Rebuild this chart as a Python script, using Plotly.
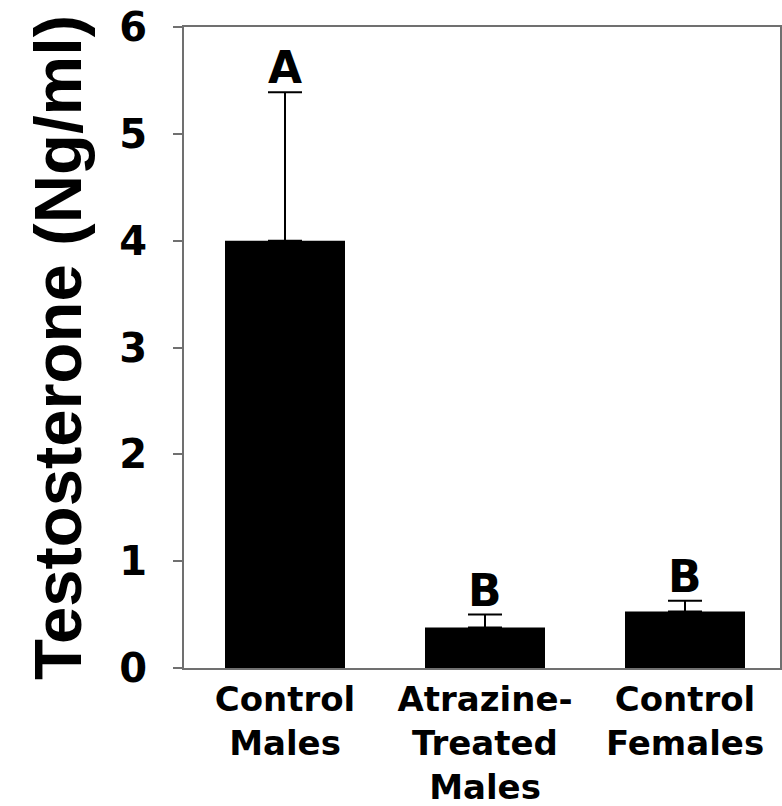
import plotly.graph_objects as go

categories = ["Control<br>Males", "Atrazine-<br>Treated<br>Males", "Control<br>Females"]
means = [4.0, 0.38, 0.53]
errors_plus = [1.39, 0.12, 0.1]
letters = ["A", "B", "B"]
y_ticks = [0, 1, 2, 3, 4, 5, 6]

x_pos = list(range(len(categories)))

fig = go.Figure()
fig.add_trace(go.Bar(
    x=x_pos,
    y=means,
    width=0.6,
    marker=dict(color="black", line=dict(width=0)),
    error_y=dict(type="data", array=errors_plus, arrayminus=[0] * len(means),
                 symmetric=False, color="black", thickness=2, width=17),
    showlegend=False,
))

for xi, m, e, lab in zip(x_pos, means, errors_plus, letters):
    fig.add_annotation(x=xi, y=m + e, text=lab, showarrow=False,
                       yanchor="bottom", yshift=-3,
                       font=dict(family="DejaVu Sans", size=44, color="black", weight="bold"))

axis_line = "#707070"
fig.update_layout(
    width=782, height=806,
    margin=dict(l=184, r=2, t=27, b=138),
    paper_bgcolor="white", plot_bgcolor="white",
    bargap=0.4,
)
fig.update_xaxes(
    range=[-0.505, 2.475], automargin=False,
    tickmode="array", tickvals=x_pos, ticktext=categories,
    ticks="", showline=True, linecolor=axis_line, linewidth=2, mirror=True,
    showgrid=False, zeroline=False,
    ticklabelstandoff=0, ticklabeloverflow="allow",
    tickfont=dict(family="DejaVu Sans", size=34, color="black", weight="bold"),
)
fig.update_yaxes(
    range=[0, 6], automargin=False, tickmode="array", tickvals=y_ticks,
    ticktext=[str(t) for t in y_ticks],
    ticks="outside", ticklen=9, tickwidth=2, tickcolor=axis_line,
    showline=True, linecolor=axis_line, linewidth=2, mirror=True,
    showgrid=False, zeroline=False,
    ticklabelstandoff=18, ticklabeloverflow="allow",
    tickfont=dict(family="DejaVu Sans", size=40, color="black", weight="bold"),
    title=dict(text="Testosterone (Ng/ml)", standoff=16,
               font=dict(family="Liberation Sans", size=67, color="black", weight="bold")),
)

# remove the page's default body margin so the figure fills the window exactly
fig.write_html("out.html", config={"displayModeBar": False},
               post_script="document.body.style.margin='0px';")
